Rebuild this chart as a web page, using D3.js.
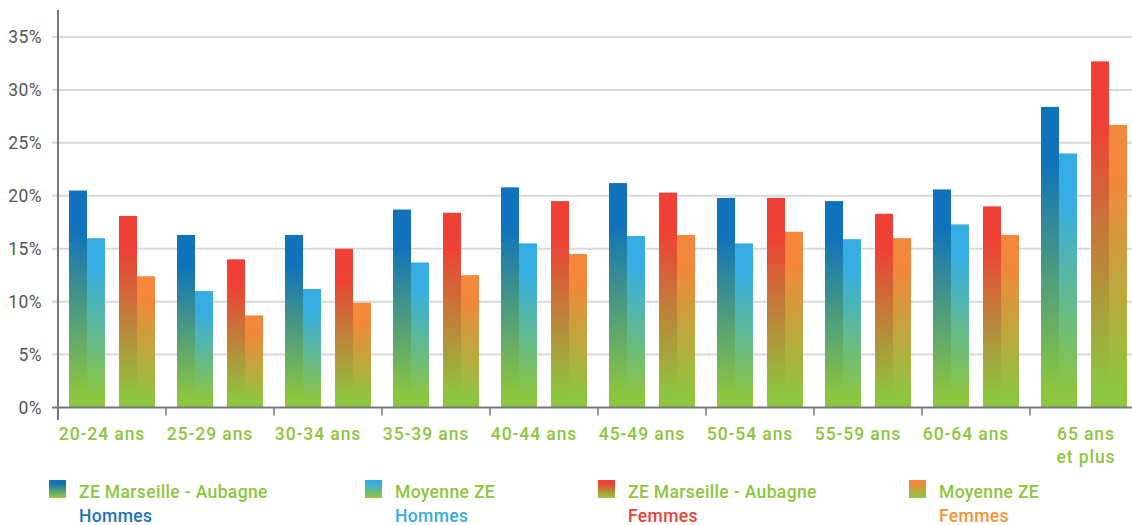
<!DOCTYPE html>
<html>
<head>
<meta charset="utf-8">
<script src="https://cdn.jsdelivr.net/npm/d3@7"></script>
<style>
  html, body { margin: 0; padding: 0; background: #fff; }
  svg { display: block; font-family: Roboto, "Noto Sans", sans-serif; }
</style>
</head>
<body>
<svg id="chart" width="1132" height="525"></svg>
<script>
// Age bands
const categories = ["20-24 ans", "25-29 ans", "30-34 ans", "35-39 ans", "40-44 ans",
                    "45-49 ans", "50-54 ans", "55-59 ans", "60-64 ans", "65 ans\net plus"];

// Share (%) per age band
const zeHommes      = [20.5, 16.3, 16.3, 18.7, 20.8, 21.2, 19.8, 19.5, 20.6, 28.4];
const moyHommes     = [16.0, 11.0, 11.2, 13.7, 15.5, 16.2, 15.5, 15.9, 17.3, 24.0];
const zeFemmes      = [18.1, 14.0, 15.0, 18.4, 19.5, 20.3, 19.8, 18.3, 19.0, 32.7];
const moyFemmes     = [12.4,  8.7,  9.9, 12.5, 14.5, 16.3, 16.6, 16.0, 16.3, 26.7];

const yTicks = [0, 5, 10, 15, 20, 25, 30, 35];

const series = [
  { key: "zeH",  sex: "H", kind: "ZE",  values: zeHommes,  color: "#0f72bb", label: "ZE Marseille - Aubagne", sub: "Hommes", subColor: "#1a74bb" },
  { key: "moyH", sex: "H", kind: "MOY", values: moyHommes, color: "#35ade3", label: "Moyenne ZE",             sub: "Hommes", subColor: "#35ade3" },
  { key: "zeF",  sex: "F", kind: "ZE",  values: zeFemmes,  color: "#ee4035", label: "ZE Marseille - Aubagne", sub: "Femmes", subColor: "#ee4035" },
  { key: "moyF", sex: "F", kind: "MOY", values: moyFemmes, color: "#f3873a", label: "Moyenne ZE",             sub: "Femmes", subColor: "#f39333" }
];
const GREEN = "#8cc63f";

const svg = d3.select("#chart");
const defs = svg.append("defs");
series.forEach(s => {
  const g = defs.append("linearGradient")
    .attr("id", "grad-" + s.key)
    .attr("x1", 0).attr("y1", 0).attr("x2", 0).attr("y2", 1);
  g.append("stop").attr("offset", "0%").attr("stop-color", s.color);
  g.append("stop").attr("offset", "18%").attr("stop-color", s.color);
  g.append("stop").attr("offset", "94%").attr("stop-color", GREEN);
  g.append("stop").attr("offset", "100%").attr("stop-color", GREEN);
});

// Scales
const x = d3.scaleBand().domain(categories).range([58, 1138]).padding(0);
const xSex = d3.scaleBand().domain(["H", "F"]).range([0, x.bandwidth()])
  .paddingInner(0.28).paddingOuter(0.22);
const xKind = d3.scaleBand().domain(["ZE", "MOY"]).range([0, xSex.bandwidth()]).padding(0);
const y = d3.scaleLinear().domain([0, 35]).range([407.5, 37]);

// Gridlines
svg.append("g").selectAll("line")
  .data(yTicks.filter(t => t > 0))
  .join("line")
  .attr("x1", 52).attr("x2", 1132)
  .attr("y1", d => y(d)).attr("y2", d => y(d))
  .attr("stroke", "#d9d9d9").attr("stroke-width", 2);

// Y axis labels
svg.append("g").selectAll("text")
  .data(yTicks)
  .join("text")
  .attr("x", 42)
  .attr("y", d => y(d))
  .attr("dy", "0.35em")
  .attr("text-anchor", "end")
  .attr("font-size", 17.5)
  .attr("letter-spacing", 0.4)
  .attr("fill", "#555")
  .text(d => d + "%");

// Bars
const groups = svg.append("g").selectAll("g")
  .data(categories)
  .join("g")
  .attr("transform", d => `translate(${x(d)},0)`);

groups.selectAll("rect")
  .data((c, i) => series.map(s => ({ s, v: s.values[i] })))
  .join("rect")
  .attr("x", d => xSex(d.s.sex) + xKind(d.s.kind))
  .attr("width", xKind.bandwidth())
  .attr("y", d => y(d.v))
  .attr("height", d => y(0) - y(d.v))
  .attr("fill", d => `url(#grad-${d.s.key})`);

// Axes lines
svg.append("line")
  .attr("x1", 52).attr("x2", 1132).attr("y1", y(0)).attr("y2", y(0))
  .attr("stroke", "#777").attr("stroke-width", 2);
svg.append("line")
  .attr("x1", 58).attr("x2", 58).attr("y1", 10).attr("y2", 420)
  .attr("stroke", "#777").attr("stroke-width", 2);
svg.append("g").selectAll("line")
  .data(categories.slice(1))
  .join("line")
  .attr("x1", d => x(d)).attr("x2", d => x(d))
  .attr("y1", y(0)).attr("y2", y(0) + 8)
  .attr("stroke", "#777").attr("stroke-width", 1.5);

// Category labels
const xl = svg.append("g").selectAll("text")
  .data(categories)
  .join("text")
  .attr("font-size", 17.5)
  .attr("font-weight", 500)
  .attr("letter-spacing", 0.9)
  .attr("fill", GREEN)
  .attr("text-anchor", "middle")
  .attr("x", d => d.includes("\n") ? x(d) + x.bandwidth() / 2 + 2 : x(d) + x.bandwidth() / 2 - 10)
  .attr("y", 440);
xl.selectAll("tspan")
  .data(d => d.split("\n").map((t, i) => ({ t, i })))
  .join("tspan")
  .attr("x", function () { return d3.select(this.parentNode).attr("x"); })
  .attr("dy", d => d.i === 0 ? 0 : 23)
  .text(d => d.t);

// Legend
const legendX = [49, 365, 598, 909];
const legend = svg.append("g").selectAll("g")
  .data(series)
  .join("g")
  .attr("transform", (d, i) => `translate(${legendX[i]},480)`);
legend.append("rect")
  .attr("width", 17).attr("height", 18)
  .attr("fill", d => `url(#grad-${d.key})`);
legend.append("text")
  .attr("x", 30).attr("y", 18)
  .attr("font-size", 17.5).attr("font-weight", 500)
  .attr("letter-spacing", 0.35)
  .attr("fill", GREEN)
  .text(d => d.label);
legend.append("text")
  .attr("x", 30).attr("y", 42)
  .attr("font-size", 17.5).attr("font-weight", 500)
  .attr("letter-spacing", 0.35)
  .attr("fill", d => d.subColor)
  .text(d => d.sub);
</script>
</body>
</html>
